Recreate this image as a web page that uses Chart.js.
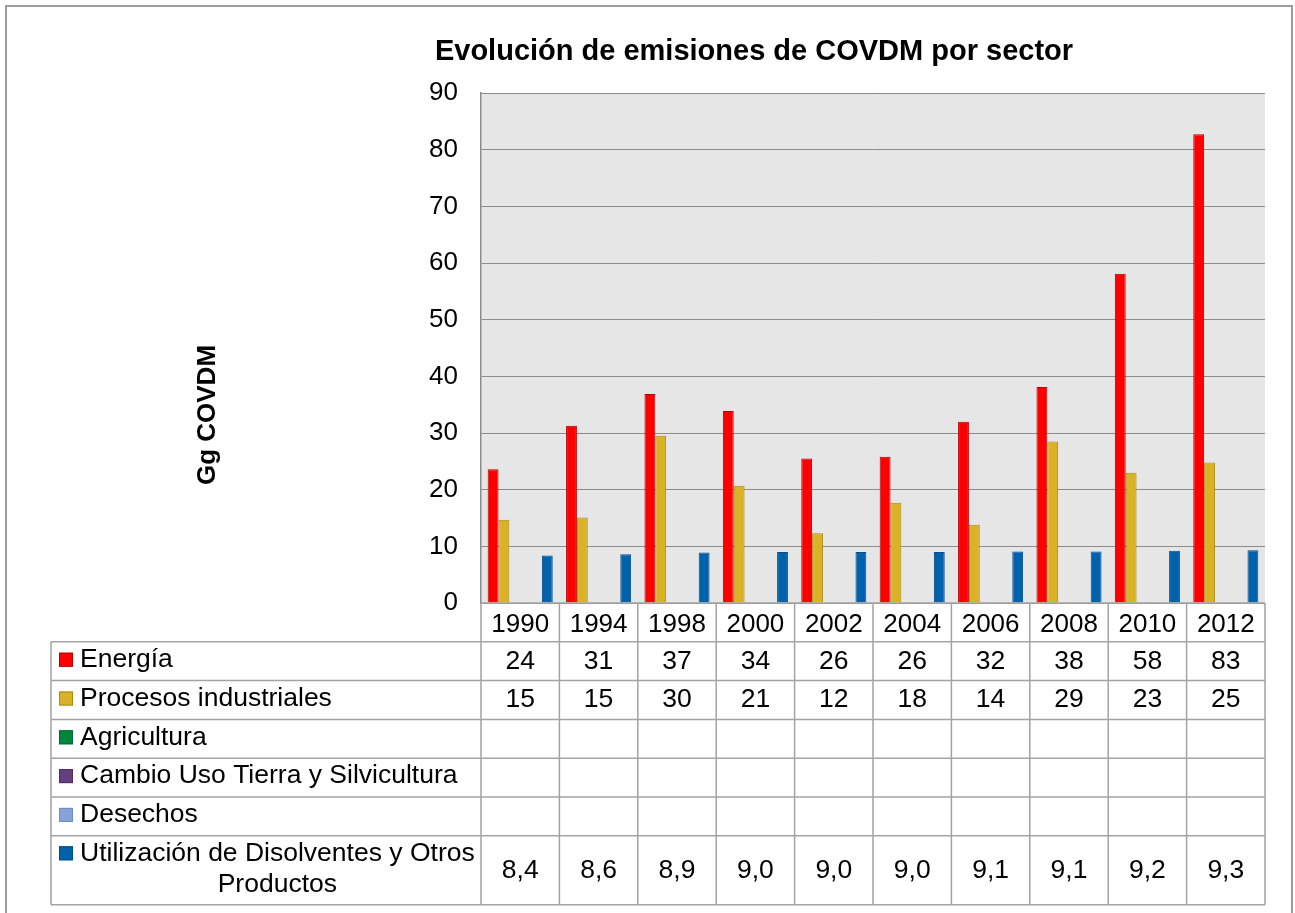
<!DOCTYPE html>
<html>
<head>
<meta charset="utf-8">
<title>Evolución de emisiones de COVDM por sector</title>
<script src="https://cdn.jsdelivr.net/npm/chart.js@4.4.0/dist/chart.umd.min.js"></script>
<style>
  html, body { margin: 0; padding: 0; background: #fff; }
  #wrap { width: 1295px; height: 913px; }
</style>
</head>
<body>
<div id="wrap"><canvas id="chartCovdm" width="1295" height="913"></canvas></div>
<script>
const years = ['1990', '1994', '1998', '2000', '2002', '2004', '2006', '2008', '2010', '2012'];
const energia = [23.6, 31.3, 36.9, 33.9, 25.5, 25.8, 32.0, 38.1, 58.1, 82.7];
const procesos = [14.7, 15.1, 29.5, 20.7, 12.3, 17.7, 13.8, 28.5, 23.0, 24.8];
const agricultura = [null, null, null, null, null, null, null, null, null, null];
const cambioUso = [null, null, null, null, null, null, null, null, null, null];
const desechos = [null, null, null, null, null, null, null, null, null, null];
const disolventes = [8.4, 8.6, 8.9, 9.0, 9.0, 9.0, 9.1, 9.1, 9.2, 9.3];
const yTicks = [0, 10, 20, 30, 40, 50, 60, 70, 80, 90];
// decimales que muestra la tabla para cada serie
const tableDecimals = [0, 0, 0, 0, 0, 1];

const FONT = '"Liberation Sans", Arial, sans-serif';
Chart.defaults.font.family = FONT;
Chart.defaults.color = '#000';

const tablePlugin = {
    id: 'dataTable',
    beforeDraw(chart) {
        const { ctx, chartArea: a } = chart;
        ctx.save();
        ctx.fillStyle = '#fff';
        ctx.fillRect(0, 0, chart.width, chart.height);
        ctx.fillStyle = '#e6e6e6';
        ctx.fillRect(a.left, a.top, a.right - a.left, a.bottom - a.top);
        ctx.restore();
    },
    afterDraw(chart) {
        const { ctx, chartArea: a, scales: { x } } = chart;
        const n = years.length;
        const colW = (a.right - a.left) / n;
        const tableLeft = 51;
        const rowH = 38.8;
        const lastRowH = 69;
        const sets = chart.data.datasets;

        const rowTops = sets.map((d, i) => a.bottom + rowH * (i + 1));
        const tableBottom = rowTops[sets.length - 1] + lastRowH;

        ctx.save();

        // título
        ctx.fillStyle = '#000';
        ctx.font = 'bold 29px ' + FONT;
        ctx.textAlign = 'center';
        ctx.textBaseline = 'middle';
        ctx.fillText('Evolución de emisiones de COVDM por sector', 754, 52);

        // título eje Y
        ctx.save();
        ctx.translate(208, 415);
        ctx.rotate(-Math.PI / 2);
        ctx.font = 'bold 26px ' + FONT;
        ctx.fillText('Gg COVDM', 0, 0);
        ctx.restore();

        // líneas de la tabla
        ctx.strokeStyle = '#a3a3a3';
        ctx.lineWidth = 1.5;
        ctx.beginPath();
        ctx.moveTo(a.left, a.bottom);
        ctx.lineTo(a.right, a.bottom);
        rowTops.forEach(t => { ctx.moveTo(tableLeft, t); ctx.lineTo(a.right, t); });
        ctx.moveTo(tableLeft, tableBottom);
        ctx.lineTo(a.right, tableBottom);
        ctx.moveTo(tableLeft, rowTops[0]);
        ctx.lineTo(tableLeft, tableBottom);
        for (let k = 0; k <= n; k++) {
            const px = a.left + k * colW;
            ctx.moveTo(px, a.bottom);
            ctx.lineTo(px, tableBottom);
        }
        ctx.stroke();

        // filas: leyenda + valores
        ctx.font = '26.5px ' + FONT;
        const textX = 80;
        const maxW = a.left - textX - 2;
        sets.forEach((ds, i) => {
            const top = rowTops[i];
            const h = i === sets.length - 1 ? lastRowH : rowH;

            // partir la etiqueta en líneas
            const words = ds.label.split(' ');
            const lines = [];
            let cur = '';
            words.forEach(w => {
                const test = cur ? cur + ' ' + w : w;
                if (ctx.measureText(test).width > maxW && cur) {
                    lines.push(cur);
                    cur = w;
                } else {
                    cur = test;
                }
            });
            lines.push(cur);
            const blockW = Math.max(...lines.map(l => ctx.measureText(l).width));
            const lineH = 31;
            const firstY = lines.length > 1 ? top + 17.5 : top + h / 2 - 1.5;

            ctx.fillStyle = ds.backgroundColor;
            ctx.fillRect(59, firstY - 7, 14, 14);
            ctx.strokeStyle = ds.borderColor;
            ctx.lineWidth = 1;
            ctx.strokeRect(59.5, firstY - 6.5, 13, 13);

            ctx.fillStyle = '#000';
            ctx.textAlign = 'center';
            ctx.textBaseline = 'middle';
            lines.forEach((l, k) => {
                ctx.fillText(l, textX + blockW / 2, firstY + k * lineH);
            });

            ds.data.forEach((v, j) => {
                if (v === null) return;
                const txt = v.toFixed(tableDecimals[i]).replace('.', ',');
                ctx.fillText(txt, x.getPixelForValue(j), top + h / 2);
            });
        });

        // marco exterior
        ctx.strokeStyle = '#9c9c9c';
        ctx.lineWidth = 2;
        ctx.strokeRect(6, 6, 1286, 930);

        ctx.restore();
    }
};

const ctxCovdm = document.getElementById('chartCovdm').getContext('2d');

new Chart(ctxCovdm, {
    type: 'bar',
    data: {
        labels: years,
        datasets: [
            { label: 'Energía', data: energia, backgroundColor: '#ff0000', borderColor: '#b80000' },
            { label: 'Procesos industriales', data: procesos, backgroundColor: '#dab225', borderColor: '#a88a14' },
            { label: 'Agricultura', data: agricultura, backgroundColor: '#00873e', borderColor: '#00692f' },
            { label: 'Cambio Uso Tierra y Silvicultura', data: cambioUso, backgroundColor: '#653f7f', borderColor: '#4d2f62' },
            { label: 'Desechos', data: desechos, backgroundColor: '#85a3d8', borderColor: '#6d8bc0' },
            { label: 'Utilización de Disolventes y Otros Productos', data: disolventes, backgroundColor: '#0062ad', borderColor: '#004d8a' }
        ]
    },
    options: {
        responsive: false,
        animation: false,
        datasets: {
            bar: {
                borderWidth: 1,
                barPercentage: 1,
                categoryPercentage: 0.83
            }
        },
        layout: {
            padding: { top: 93, right: 30, bottom: 272, left: 421 }
        },
        plugins: {
            legend: { display: false },
            title: { display: false },
            tooltip: { enabled: false }
        },
        scales: {
            x: {
                grid: { display: false },
                border: { display: false },
                ticks: { font: { size: 26 }, color: '#000', padding: -2, maxRotation: 0, autoSkip: false },
                afterFit: s => { s.height = 38; }
            },
            y: {
                min: 0,
                max: 90,
                afterBuildTicks: s => { s.ticks = yTicks.map(v => ({ value: v })); },
                grid: { color: '#8c8c8c', lineWidth: 1, drawTicks: false },
                border: { display: true, color: '#8c8c8c', width: 1.5 },
                ticks: { font: { size: 26 }, color: '#000', padding: 23 },
                afterFit: s => { s.width = 60; }
            }
        }
    },
    plugins: [tablePlugin]
});
</script>
</body>
</html>
